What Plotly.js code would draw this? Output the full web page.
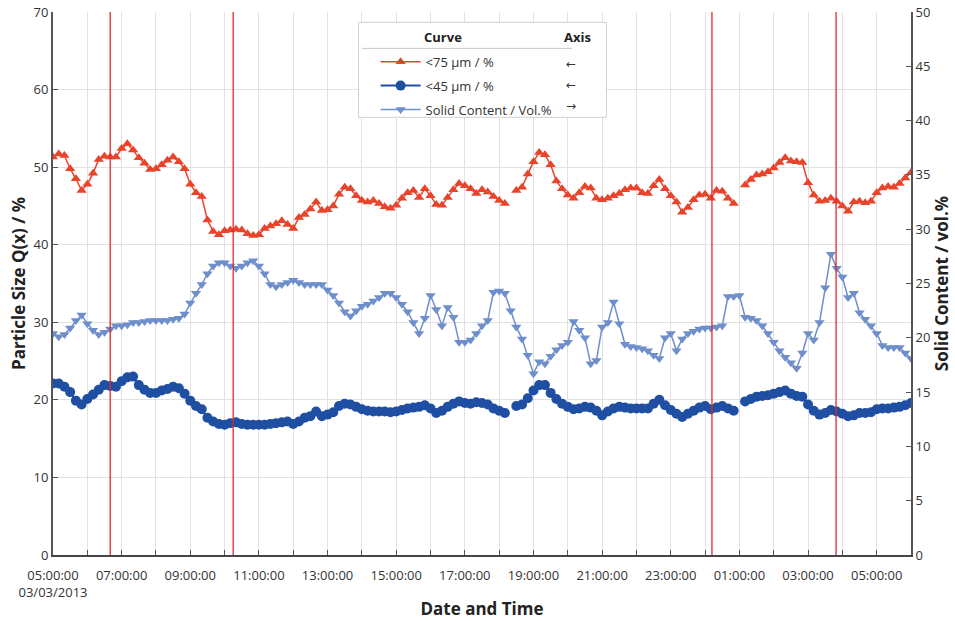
<!DOCTYPE html>
<html>
<head>
<meta charset="utf-8">
<script src="https://cdn.plot.ly/plotly-3.0.1.min.js"></script>
<style>
html,body{margin:0;padding:0;background:#fff;}
#chart{width:955px;height:621px;}
</style>
</head>
<body>
<div id="chart"></div>
<script>
// Sampling: one reading every 10 minutes, starting 03/03/2013 05:00:00
const startTime = '2013-03-03 05:00:00';
const intervalMinutes = 10;

// <75 µm / % (left axis)
const p75 = [
51.3,51.7,51.5,49.8,48.5,47.0,47.8,49.2,51.0,51.4,51.3,51.3,52.4,53.0,52.2,51.2,50.5,49.7,49.8,50.3,
50.9,51.3,50.7,49.8,47.8,46.7,46.2,43.2,41.7,41.3,41.8,41.9,42.0,41.9,41.4,41.2,41.3,42.1,42.4,42.7,
43.1,42.6,42.1,43.5,43.9,44.6,45.5,44.4,44.5,45.0,46.5,47.4,47.2,46.3,45.7,45.5,45.7,45.3,44.9,44.7,
45.1,46.0,46.7,47.0,46.1,47.2,46.3,45.2,45.1,46.1,47.1,47.9,47.6,47.2,46.6,47.1,46.8,46.2,45.7,45.3,
null,47.0,47.4,49.1,50.7,51.9,51.6,50.3,48.2,47.2,46.4,46.0,46.7,47.5,47.3,46.0,45.8,46.0,46.3,46.6,
47.1,47.3,47.3,46.7,46.6,47.6,48.4,47.2,46.3,45.5,44.2,44.8,45.8,46.4,46.5,46.0,47.0,46.9,46.0,45.3,
null,47.7,48.4,49.0,49.1,49.4,49.9,50.6,51.2,50.8,50.7,50.6,48.0,46.4,45.6,45.7,46.0,45.6,45.0,44.3,
45.5,45.6,45.4,45.6,46.7,47.3,47.5,47.4,47.9,48.6,49.3
];

// <45 µm / % (left axis)
const p45 = [
22.1,22.1,21.7,21.0,19.9,19.4,20.1,20.7,21.3,21.9,21.8,21.7,22.4,22.9,23.0,21.9,21.3,20.9,20.9,21.2,
21.4,21.7,21.5,20.8,19.9,19.2,18.8,17.7,17.2,16.9,16.8,17.0,17.1,16.9,16.8,16.8,16.8,16.8,16.9,17.0,
17.1,17.2,16.9,17.2,17.7,17.9,18.5,17.9,18.1,18.4,19.2,19.5,19.4,19.1,18.8,18.6,18.5,18.5,18.5,18.4,
18.5,18.7,18.9,19.0,19.1,19.3,18.9,18.3,18.6,19.1,19.5,19.8,19.6,19.5,19.7,19.6,19.4,18.9,18.6,18.3,
null,19.2,19.4,20.2,21.2,21.9,21.9,20.9,20.1,19.5,19.1,18.8,18.9,19.1,19.0,18.6,18.0,18.5,18.9,19.1,
19.0,18.9,18.9,18.9,18.9,19.5,20.0,19.3,18.7,18.2,17.8,18.2,18.6,19.0,19.2,18.8,19.0,19.2,18.9,18.6,
null,19.8,20.1,20.4,20.5,20.6,20.8,21.0,21.2,20.8,20.5,20.4,19.4,18.6,18.1,18.3,18.7,18.5,18.2,17.9,
18.0,18.3,18.3,18.4,18.8,18.9,18.9,19.0,19.1,19.3,19.6
];

// Solid Content / Vol.% (right axis)
const solid = [
20.4,20.1,20.3,20.9,21.6,22.1,21.3,20.7,20.3,20.5,20.8,21.1,21.1,21.2,21.4,21.4,21.5,21.6,21.6,21.6,
21.6,21.7,21.8,22.2,23.2,24.1,24.9,25.9,26.6,26.9,26.9,26.6,26.4,26.6,26.9,27.1,26.6,25.9,24.9,24.7,
24.9,25.1,25.3,25.1,24.9,24.9,24.9,24.9,24.4,23.9,23.2,22.4,22.0,22.5,22.9,23.1,23.4,23.7,24.1,24.1,
23.7,23.1,22.4,21.4,20.4,21.8,23.9,22.6,21.1,22.8,21.9,19.6,19.6,19.8,20.4,21.1,21.6,24.2,24.3,24.1,
22.5,21.0,19.9,18.4,16.7,17.8,17.6,18.3,18.9,19.3,19.6,21.5,20.7,20.0,17.6,17.9,21.0,21.4,23.3,21.3,
19.4,19.2,19.1,19.0,18.8,18.4,18.1,20.0,20.4,18.8,19.9,20.4,20.6,20.8,20.9,20.9,21.0,21.1,23.8,23.8,
23.9,21.9,21.8,21.6,21.1,20.4,19.6,18.8,18.2,17.7,17.2,18.6,20.4,19.8,21.4,24.6,27.7,26.4,25.6,23.7,
24.1,22.3,21.7,21.1,20.4,19.3,19.1,19.1,19.1,18.6,18.1
];

// Red reference lines (event times)
const eventTimes = ['2013-03-03 06:40:00','2013-03-03 10:15:00','2013-03-04 00:12:00','2013-03-04 03:49:00'];

// Legend header and axis arrows
const legendHeader = ['Curve', 'Axis'];
const axisArrows = ['←', '←', '→'];

// X axis ticks (every hour, labelled every 2 hours)
const tickTimes = [];
const tickLabels = [];
(function(){
  const t0 = Date.UTC(2013,2,3,5,0,0);
  for (let h = 0; h <= 25; h++) {
    const d = new Date(t0 + h*3600000);
    tickTimes.push(d.toISOString().slice(0,19).replace('T',' '));
    const hh = String(d.getUTCHours()).padStart(2,'0');
    if (h % 2 === 0) {
      tickLabels.push(h === 0 ? hh + ':00:00<br>03/03/2013' : hh + ':00:00');
    } else tickLabels.push('');
  }
})();

function buildTimes(n){
  const [dp, tp] = startTime.split(' ');
  const [Y,M,D] = dp.split('-').map(Number);
  const [h,m,s] = tp.split(':').map(Number);
  const t0 = Date.UTC(Y,M-1,D,h,m,s);
  const out = [];
  for (let i=0;i<n;i++){
    out.push(new Date(t0 + i*intervalMinutes*60000).toISOString().slice(0,19).replace('T',' '));
  }
  return out;
}

const times = buildTimes(p75.length);

const RED = '#E8442C', BLUE = '#1F4FA3', LBLUE = '#6E8FCB';
const FONT = 'Open Sans, Noto Sans, sans-serif';

const traces = [
  {x: times, y: p75, name: '<75 µm / %', type: 'scatter', mode: 'lines+markers', legendgroup: 'a',
   line: {color: RED, width: 1.5}, marker: {symbol: 'triangle-up', size: 9, color: RED},
   connectgaps: false, yaxis: 'y'},
  {x: times, y: p45, name: '<45 µm / %', type: 'scatter', mode: 'lines+markers', legendgroup: 'b',
   line: {color: BLUE, width: 2}, marker: {symbol: 'circle', size: 10, color: BLUE},
   connectgaps: false, yaxis: 'y'},
  {x: times, y: solid, name: 'Solid Content / Vol.%', type: 'scatter', mode: 'lines+markers', legendgroup: 'c',
   line: {color: LBLUE, width: 1.5}, marker: {symbol: 'triangle-down', size: 9, color: LBLUE},
   yaxis: 'y2'}
];

const shapes = eventTimes.map(t => ({
  type: 'line', xref: 'x', yref: 'paper', x0: t, x1: t, y0: 0, y1: 1,
  line: {color: '#E02A2A', width: 1.3}, layer: 'above'
}));
// legend frame and header rule
shapes.push({type:'rect', xref:'paper', yref:'paper', x0:0.356, x1:0.645, y0:0.806, y1:0.981,
  line:{color:'#d0d0d0', width:1}, fillcolor:'rgba(255,255,255,1)', layer:'above'});
shapes.push({type:'line', xref:'paper', yref:'paper', x0:0.36, x1:0.605, y0:0.933, y1:0.933,
  line:{color:'#c8c8c8', width:1}, layer:'above'});

const annotations = [
  {xref:'paper', yref:'paper', x:0.455, y:0.954, text:'<b>'+legendHeader[0]+'</b>', showarrow:false,
   font:{family:FONT, size:13, color:'#222'}, xanchor:'center', yanchor:'middle'},
  {xref:'paper', yref:'paper', x:0.611, y:0.954, text:'<b>'+legendHeader[1]+'</b>', showarrow:false,
   font:{family:FONT, size:13, color:'#222'}, xanchor:'center', yanchor:'middle'}
];
const arrowY = [0.905, 0.866, 0.827];
axisArrows.forEach((a,i) => annotations.push(
  {xref:'paper', yref:'paper', x:0.604, y:arrowY[i], text:a, showarrow:false,
   font:{family:'DejaVu Sans, sans-serif', size:12, color:'#333'}, xanchor:'center', yanchor:'middle'}));

const layout = {
  width: 955, height: 621,
  margin: {l: 53, r: 44, t: 12, b: 66},
  paper_bgcolor: '#fff', plot_bgcolor: '#fff',
  font: {family: FONT, size: 12, color: '#333'},
  showlegend: true,
  legend: {x: 0.376, y: 0.936, xanchor: 'left', yanchor: 'top', bgcolor: 'rgba(0,0,0,0)',
           borderwidth: 0, font: {family: FONT, size: 13, color: '#333'},
           traceorder: 'grouped', tracegroupgap: 4, itemwidth: 40},
  xaxis: {
    type: 'date',
    range: ['2013-03-03 05:00:00', '2013-03-04 06:00:00'],
    tickmode: 'array', tickvals: tickTimes, ticktext: tickLabels,
    ticks: 'inside', ticklen: 5, tickcolor: '#555', ticklabelstandoff: 7,
    showgrid: true, gridcolor: '#e2e2e2', gridwidth: 1,
    showline: true, linecolor: '#444', linewidth: 2,
    zeroline: false, tickangle: 0, automargin: false,
    tickfont: {family: FONT, size: 13, color: '#333'},
    title: {text: '<b>Date and Time</b>', font: {family: FONT, size: 17, color: '#222'}, standoff: 4}
  },
  yaxis: {
    range: [0, 70], dtick: 10, tick0: 0,
    ticks: 'inside', ticklen: 5, tickcolor: '#555',
    showgrid: true, gridcolor: '#e2e2e2', gridwidth: 1,
    showline: true, linecolor: '#555', linewidth: 2, zeroline: false, automargin: false,
    tickfont: {family: FONT, size: 13, color: '#333'},
    title: {text: '<b>Particle Size Q(x) / %</b>', font: {family: FONT, size: 17, color: '#222'}, standoff: 4}
  },
  yaxis2: {
    overlaying: 'y', side: 'right', range: [0, 50], dtick: 5, tick0: 0,
    ticks: 'inside', ticklen: 5, tickcolor: '#555',
    showgrid: false, showline: true, linecolor: '#555', linewidth: 2, zeroline: false, automargin: false,
    tickfont: {family: FONT, size: 13, color: '#333'},
    title: {text: '<b>Solid Content / vol.%</b>', font: {family: FONT, size: 17, color: '#222'}, standoff: 4}
  },
  shapes: shapes,
  annotations: annotations
};

Plotly.newPlot('chart', traces, layout, {displayModeBar: false, staticPlot: true});
</script>
</body>
</html>
